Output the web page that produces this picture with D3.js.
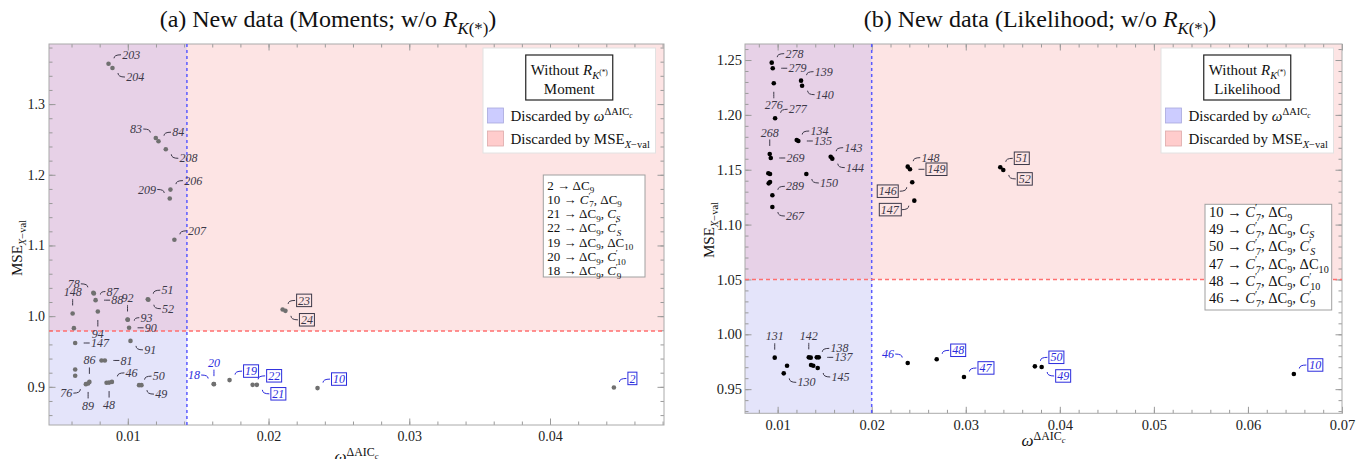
<!DOCTYPE html>
<html><head><meta charset="utf-8">
<script src="https://cdn.jsdelivr.net/npm/d3@7"></script>
<style>body{margin:0;background:#fff}svg{display:block}text{font-family:"Liberation Serif","Times New Roman",serif}</style>
</head><body><svg id="c" width="1364" height="459"></svg>
<script>
// ---------------- DATA : panel (a) Moments ----------------
const momentsIds = ["203","204","83","84","208","206","209","207","78","87","88","94","148","","147","92","93","90","91","51","52","","","76","89","86","","81","","48","46","50","49","18","20","19","22","21","23","24","10","2"];
const momentsOmega = [0.00863,0.00891,0.01199,0.01218,0.0127,0.01303,0.01298,0.01331,0.00755,0.00759,0.00771,0.00787,0.00608,0.00617,0.00626,0.00998,0.01000,0.01009,0.01019,0.01142,0.01146,0.00626,0.00626,0.00702,0.00718,0.00727,0.00813,0.00837,0.00849,0.00867,0.00887,0.0108,0.01097,0.01610,0.01612,0.01723,0.01887,0.01917,0.0210,0.0212,0.02348,0.04454];
const momentsMSE = [1.357,1.351,1.252,1.2475,1.236,1.179,1.1665,1.108,1.033,1.032,1.0226,1.0066,1.0038,0.983,0.962,0.9953,0.9950,0.9835,0.965,1.0240,1.0232,0.9246,0.9156,0.9038,0.9048,0.907,0.9373,0.9373,0.9057,0.906,0.907,0.9024,0.9024,0.9040,0.9038,0.9095,0.9028,0.9028,1.0095,1.0075,0.8982,0.8991];
const momentsBoxed = ["23","24","19","22","21","10","2"];
const momentsCutOmega = 0.0142;
const momentsCutMSE = 0.979;
const momentsXTicks = [0.01,0.02,0.03,0.04];
const momentsYTicks = [0.9,1.0,1.1,1.2,1.3];
const momentsMapIds = ["2","10","21","22","19","20","18"];
const momentsMapCoefs = [["dC9"],["C7p","dC9"],["dC9","CS"],["dC9","CSp"],["dC9","dC10"],["dC9","C10p"],["dC9","C9p"]];

// ---------------- DATA : panel (b) Likelihood ----------------
const likeIds = ["278","279","276","277","139","140","134","135","143","144","268","269","150","","","","","289","267","148","149","146","147","51","52","131","130","","142","","138","137","","","145","46","48","47","50","49","10"];
const likeOmega = [0.00937,0.00948,0.00959,0.00973,0.01249,0.0126,0.01203,0.0122,0.01564,0.01581,0.00916,0.00927,0.01305,0.00901,0.00919,0.00905,0.00919,0.00944,0.00944,0.02383,0.02407,0.02431,0.02453,0.03367,0.03399,0.00969,0.01065,0.0110,0.01331,0.01352,0.01416,0.01437,0.01355,0.01379,0.01426,0.02383,0.02691,0.02981,0.03735,0.03807,0.06488];
const likeMSE = [1.2476,1.2425,1.2288,1.1969,1.2312,1.2266,1.1771,1.1762,1.1619,1.1601,1.1644,1.1607,1.1461,1.1468,1.1461,1.1376,1.1388,1.1267,1.116,1.1528,1.1504,1.1386,1.1218,1.1522,1.1498,0.9787,0.9644,0.9714,0.979,0.9787,0.979,0.979,0.972,0.9714,0.9693,0.9738,0.9772,0.9611,0.9708,0.9702,0.9638];
const likeBoxed = ["149","146","147","51","52","48","47","50","49","10"];
const likeCutOmega = 0.02;
const likeCutMSE = 1.05;
const likeXTicks = [0.01,0.02,0.03,0.04,0.05,0.06,0.07];
const likeYTicks = [0.95,1.00,1.05,1.10,1.15,1.20,1.25];
const likeMapIds = ["10","49","50","47","48","46"];
const likeMapCoefs = [["C7p","dC9"],["C7p","dC9","CS"],["C7p","dC9","CSp"],["C7p","dC9","dC10"],["C7p","dC9","C10p"],["C7p","dC9","C9p"]];

// ---------------- LAYOUT (callout placement) ----------------
const momentsDirs = {"203":"NE","204":"SE","83":"NW","84":"NE","208":"SE","206":"NE","209":"NW","207":"NE",
 "78":"NW","87":"ne","88":"E","92":"N","93":"ne","90":"E","91":"SE","94":"S","148":"N","147":"E","51":"NE","52":"SE",
 "86":"N","81":"E","76":"SW","89":"S","48":"S","46":"NE","50":"NE","49":"SE",
 "18":"NW","20":"N","19":"NE","22":"NE","21":"SE","10":"NE","2":"NE","23":"NE","24":"SE"};
const likeDirs = {"278":"NE","279":"E","276":"S","277":"NE","139":"NE","140":"SE","134":"NE","135":"E","143":"NE","144":"SE",
 "268":"N","269":"E","150":"SE","289":"NE","267":"SE","148":"NE","149":"E","146":"SW","147":"SW","51":"NE","52":"SE",
 "131":"N","130":"SE","142":"N","138":"NE","137":"E","145":"SE","46":"NW","48":"NE","47":"NE","50":"NE","49":"SE","10":"NE"};
const DIRS = {
 NE:{s:[5.5,-5.5],e:[12.5,-9],a:"start"},
 ne:{s:[6.5,1],e:[11.5,-2],a:"start"},
 SE:{s:[5.5,5],e:[12.5,9],a:"start"},
 NW:{s:[-5.5,-5.5],e:[-12.5,-9],a:"end"},
 SW:{s:[-5.5,5],e:[-12.5,9],a:"end"},
 E:{s:[8.5,0],e:[14.5,0],a:"start"},
 W:{s:[-8.5,0],e:[-14.5,0],a:"end"},
 N:{s:[0,-8],e:[0,-14.5],a:"middle"},
 S:{s:[0,8.5],e:[0,15],a:"middle"}
};

const svg = d3.select("#c");
const DARK = "#3c3848", BLUE = "#2b2bdd";

function rich(textEl, segs, fs) {
  let cur = 0, pendingDx = 0;
  function emit(t, off, size, ital) {
    const ts = textEl.append("tspan").attr("dy", (off - cur).toFixed(2)).attr("font-size", size)
      .attr("font-style", ital ? "italic" : "normal").text(t);
    if (pendingDx) { ts.attr("dx", pendingDx); pendingDx = 0; }
    cur = off;
  }
  function walk(list, off, size, ital) {
    list.forEach(s => {
      if (typeof s === "string") emit(s, off, size, ital);
      else if (s.i !== undefined) walk(typeof s.i === "string" ? [s.i] : s.i, off, size, true);
      else if (s.sub) walk(s.sub, off + size * 0.28, size * 0.7, ital);
      else if (s.sup) walk(s.sup, off - size * 0.38, size * 0.7, ital);
      else if (s.dx) pendingDx += s.dx;
    });
  }
  walk(segs, 0, fs, false);
}

function coefSegs(code) {
  const m = code.match(/^(d?)C(\w+?)(p?)$/);
  const out = [];
  if (m[1]) out.push("ΔC"); else out.push({i:"C"});
  const idx = m[2] === "S" ? {i:"S"} : m[2];
  if (m[3]) { out.push({sup:["′"]}); out.push({dx:-1.2}); }
  out.push({sub:[idx]});
  return out;
}

const OMEGA = [{i:"ω"},{sup:["ΔAIC",{sub:[{i:"c"}]}]}];
const MSEX = ["MSE",{sub:[{i:"X"},"−val"]}];

function panel(cfg) {
  const x = d3.scaleLinear().domain(cfg.xDomain).range([cfg.left, cfg.right]);
  const y = d3.scaleLinear().domain(cfg.yDomain).range([cfg.bottom, cfg.top]);
  const g = svg.append("g");
  const xc = x(cfg.cutX), yc = y(cfg.cutY);
  const W = cfg.right - cfg.left, H = cfg.bottom - cfg.top;
  // shaded regions
  g.append("rect").attr("x", xc).attr("y", cfg.top).attr("width", cfg.right - xc).attr("height", yc - cfg.top).attr("fill", "#fde4e4");
  g.append("rect").attr("x", cfg.left).attr("y", yc).attr("width", xc - cfg.left).attr("height", cfg.bottom - yc).attr("fill", "#e4e4fa");
  g.append("rect").attr("x", cfg.left).attr("y", cfg.top).attr("width", xc - cfg.left).attr("height", yc - cfg.top).attr("fill", "#e7d1e7");
  // axes (ticks inward on all sides)
  const tc = "#9a9a9a";
  function styleAxis(sel) {
    sel.select(".domain").remove();
    sel.selectAll(".tick line").attr("stroke", tc);
    sel.selectAll(".tick text").attr("fill", "#222").attr("font-size", cfg.tickFs).attr("font-family", "Liberation Serif");
  }
  const xMinor = d3.range(cfg.xMinor[0], cfg.xMinor[1] + 1e-9, cfg.xMinor[2]);
  const yMinor = d3.range(cfg.yMinor[0], cfg.yMinor[1] + 1e-9, cfg.yMinor[2]);
  g.append("g").attr("transform", `translate(0,${cfg.bottom})`).call(d3.axisBottom(x).tickValues(xMinor).tickSize(-3.5).tickFormat("")).call(styleAxis);
  g.append("g").attr("transform", `translate(0,${cfg.top})`).call(d3.axisTop(x).tickValues(xMinor).tickSize(-3.5).tickFormat("")).call(styleAxis);
  g.append("g").attr("transform", `translate(${cfg.left},0)`).call(d3.axisLeft(y).tickValues(yMinor).tickSize(-3.5).tickFormat("")).call(styleAxis);
  g.append("g").attr("transform", `translate(${cfg.right},0)`).call(d3.axisRight(y).tickValues(yMinor).tickSize(-3.5).tickFormat("")).call(styleAxis);
  g.append("g").attr("transform", `translate(0,${cfg.bottom})`).call(d3.axisBottom(x).tickValues(cfg.xTicks).tickSize(-6.5).tickPadding(6).tickFormat(d3.format(".2f"))).call(styleAxis);
  g.append("g").attr("transform", `translate(0,${cfg.top})`).call(d3.axisTop(x).tickValues(cfg.xTicks).tickSize(-6.5).tickFormat("")).call(styleAxis);
  g.append("g").attr("transform", `translate(${cfg.left},0)`).call(d3.axisLeft(y).tickValues(cfg.yTicks).tickSize(-6.5).tickPadding(cfg.yPad).tickFormat(d3.format(cfg.yFmt))).call(styleAxis);
  g.append("g").attr("transform", `translate(${cfg.right},0)`).call(d3.axisRight(y).tickValues(cfg.yTicks).tickSize(-6.5).tickFormat("")).call(styleAxis);
  // frame
  g.append("rect").attr("x", cfg.left).attr("y", cfg.top).attr("width", W).attr("height", H).attr("fill", "none").attr("stroke", "#aaaaaa").attr("stroke-width", 1);
  // dashed cut lines
  g.append("line").attr("x1", xc).attr("x2", xc).attr("y1", cfg.top).attr("y2", cfg.bottom).attr("stroke", "#5a5aff").attr("stroke-width", 1.5).attr("stroke-dasharray", "3,3");
  g.append("line").attr("x1", cfg.left).attr("x2", cfg.right).attr("y1", yc).attr("y2", yc).attr("stroke", "#ff6f6f").attr("stroke-width", 1.5).attr("stroke-dasharray", "4,3");
  // legend
  const LL = cfg.right - 8.5 - 172.5, LT = cfg.top + 4, LR = cfg.right - 8.5;
  g.append("rect").attr("x", LL).attr("y", LT).attr("width", LR - LL).attr("height", 105).attr("fill", "#fff").attr("stroke", "#e2e2e2");
  const cx = (LL + LR) / 2;
  g.append("rect").attr("x", cx - 43.5).attr("y", LT + 7).attr("width", 87).attr("height", 45).attr("fill", "#fff").attr("stroke", "#222").attr("stroke-width", 1.2);
  rich(g.append("text").attr("x", cx).attr("y", LT + 27).attr("text-anchor", "middle").attr("fill", "#111"),
       ["Without ", {i:"R"}, {sub:[{i:"K"}, {sup:["(*)"]}]}], 15);
  g.append("text").attr("x", cx).attr("y", LT + 45.5).attr("text-anchor", "middle").attr("fill", "#111").attr("font-size", 15).text(cfg.method);
  [["#ccccff", "#a9a9dd", ["Discarded by ", ...OMEGA]], ["#ffcccc", "#ddaaaa", ["Discarded by ", ...MSEX]]].forEach((r, k) => {
    const yy = LT + 67.5 + k * 23;
    g.append("rect").attr("x", LL + 4.5).attr("y", yy - 7.5).attr("width", 16).attr("height", 15).attr("fill", r[0]).attr("stroke", r[1]).attr("stroke-width", 0.8);
    rich(g.append("text").attr("x", LL + 27.5).attr("y", yy + 5).attr("fill", "#111"), r[2], 15);
  });
  // mapping box
  const mb = cfg.mapBox;
  g.append("rect").attr("x", mb.x).attr("y", mb.y).attr("width", mb.w).attr("height", mb.h).attr("fill", "#fff").attr("stroke", "#a0a0a0");
  cfg.mapIds.forEach((id, k) => {
    const segs = [id + " → "];
    cfg.mapCoefs[k].forEach((c, j) => { if (j) segs.push(", "); segs.push(...coefSegs(c)); });
    rich(g.append("text").attr("x", mb.x + 4).attr("y", mb.y + mb.first + k * mb.lh).attr("fill", "#111"), segs, mb.fs);
  });
  // points
  const n = cfg.ids.length;
  const idx = d3.range(n);
  g.append("g").selectAll("circle").data(idx).join("circle")
    .attr("cx", i => x(cfg.xs[i])).attr("cy", i => y(cfg.ys[i])).attr("r", 2.3).attr("fill", cfg.ptColor);
  // callouts
  const cg = g.append("g");
  idx.filter(i => cfg.ids[i] !== "").forEach(i => {
    const id = cfg.ids[i];
    const d = DIRS[cfg.dirs[id]];
    const px = x(cfg.xs[i]), py = y(cfg.ys[i]);
    const col = (cfg.xs[i] > cfg.cutX && cfg.ys[i] < cfg.cutY) ? BLUE : DARK;
    const sx = px + d.s[0], sy = py + d.s[1], ex = px + d.e[0], ey = py + d.e[1];
    cg.append("path").attr("d", `M${sx},${sy}Q${sx},${ey} ${ex},${ey}`).attr("fill", "none").attr("stroke", col).attr("stroke-width", 1);
    const boxed = cfg.boxed.includes(id);
    const pad = boxed ? 3 : 1.2;
    let tx = ex, ty = ey;
    if (d.a === "start") tx = ex + pad;
    else if (d.a === "end") tx = ex - pad;
    else ty = ey + (d.e[1] < 0 ? -7 : 7);
    const t = cg.append("text").attr("x", tx).attr("y", ty).attr("dy", "0.34em").attr("text-anchor", d.a)
      .attr("font-size", 12).attr("font-style", "italic").attr("fill", col).text(id);
    if (boxed) {
      const bb = t.node().getBBox();
      cg.insert("rect", () => t.node()).attr("x", bb.x - 1.5).attr("y", ty - 6.3).attr("width", bb.width + 3).attr("height", 12.5)
        .attr("fill", "none").attr("stroke", col).attr("stroke-width", 1);
    }
  });
  // axis labels & title
  rich(svg.append("text").attr("x", (cfg.left + cfg.right) / 2).attr("y", cfg.xlabY).attr("text-anchor", "middle").attr("fill", "#111"), OMEGA, 17);
  rich(svg.append("text").attr("transform", `translate(${cfg.ylabX},${cfg.ylabY}) rotate(-90)`).attr("text-anchor", "middle").attr("fill", "#111"), MSEX, 15);
  rich(svg.append("text").attr("x", cfg.titleX).attr("y", 27).attr("text-anchor", "middle").attr("fill", "#111"),
       [cfg.title, {i:"R"}, {sub:[{i:"K"}, "(*)"]}, ")"], 24);
}

panel({
  left: 49, right: 664, top: 44, bottom: 425,
  xDomain: [0.0044, 0.0481], yDomain: [0.846, 1.385],
  xTicks: momentsXTicks, yTicks: momentsYTicks, yFmt: ".1f", yPad: 4, tickFs: 14,
  xMinor: [0.006, 0.048, 0.002], yMinor: [0.86, 1.38, 0.02],
  cutX: momentsCutOmega, cutY: momentsCutMSE,
  ids: momentsIds, xs: momentsOmega, ys: momentsMSE, boxed: momentsBoxed, dirs: momentsDirs,
  ptColor: "#707070", method: "Moment",
  mapIds: momentsMapIds, mapCoefs: momentsMapCoefs,
  mapBox: {x: 543.3, y: 175, w: 101.7, h: 102, first: 14.5, lh: 14.3, fs: 13},
  xlabY: 462, ylabX: 22, ylabY: 248, titleX: 328, title: "(a) New data (Moments; w/o "
});
panel({
  left: 745, right: 1342, top: 44, bottom: 413.3,
  xDomain: [0.00653, 0.07], yDomain: [0.928, 1.2646],
  xTicks: likeXTicks, yTicks: likeYTicks, yFmt: ".2f", yPad: 3, tickFs: 14.5,
  xMinor: [0.008, 0.07, 0.002], yMinor: [0.93, 1.26, 0.01],
  cutX: likeCutOmega, cutY: likeCutMSE,
  ids: likeIds, xs: likeOmega, ys: likeMSE, boxed: likeBoxed, dirs: likeDirs,
  ptColor: "#000", method: "Likelihood",
  mapIds: likeMapIds, mapCoefs: likeMapCoefs,
  mapBox: {x: 1205, y: 204.3, w: 126.7, h: 105.7, first: 12.5, lh: 17.3, fs: 14.5},
  xlabY: 446, ylabX: 714, ylabY: 230, titleX: 1040, title: "(b) New data (Likelihood; w/o "
});
</script></body></html>
